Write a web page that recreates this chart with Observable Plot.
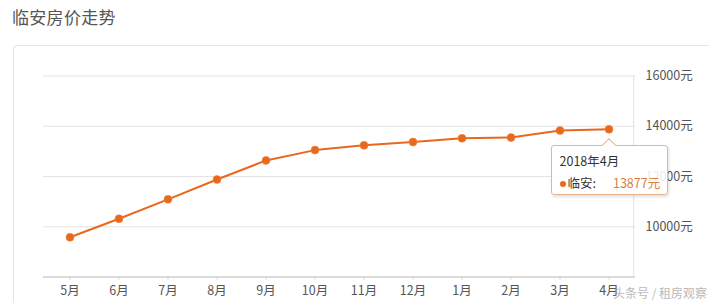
<!DOCTYPE html>
<html>
<head>
<meta charset="utf-8">
<script src="https://cdn.jsdelivr.net/npm/d3@7"></script>
<script src="https://cdn.jsdelivr.net/npm/@observablehq/plot@0.6"></script>
<style>
  html, body { margin: 0; padding: 0; background: #fff; }
  #wrap { position: relative; width: 709px; height: 303px; overflow: hidden; font-family: "Noto Sans CJK SC", "Noto Sans", sans-serif; }
  #title { position: absolute; left: 12px; top: 4px; font-size: 17px; color: #555; letter-spacing: 0.3px; }
  #card { position: absolute; left: 13px; top: 45px; width: 740px; height: 300px; border: 1px solid #e4e4e4; border-radius: 4px; box-sizing: border-box; }
  #chart { position: absolute; left: 0; top: 0; }
  #tip { position: absolute; background: rgba(255,255,255,0.88); border: 1px solid #ecb48c; border-radius: 3px; box-shadow: 1px 2px 3px rgba(0,0,0,0.12); box-sizing: border-box; font-size: 12.5px; color: #333; }
  #tip .l1 { position: absolute; left: 8px; top: 5px; white-space: nowrap; }
  #tip .l2 { position: absolute; left: 8px; top: 27px; white-space: nowrap; }
  #tip .dot { display: inline-block; width: 6px; height: 6px; border-radius: 50%; background: #e8691e; margin-right: 2px; vertical-align: 1px; }
  #tip .val { color: #d9823f; margin-left: 17px; }
  #arrow { position: absolute; width: 9px; height: 9px; background: #fff; border-left: 1px solid #ecb48c; border-top: 1px solid #ecb48c; transform: rotate(45deg); }
  #wm { position: absolute; left: 613px; top: 284px; font-size: 12px; color: rgba(170,170,170,0.85); white-space: nowrap; }
</style>
</head>
<body>
<div id="wrap">
  <div id="title">临安房价走势</div>
  <div id="card"></div>
  <div id="chart"></div>
  <div id="tip"><div class="l1"></div><div class="l2"></div></div>
  <div id="arrow"></div>
  <div id="wm">头条号 / 租房观察</div>
</div>
<script>
const months = ["5月","6月","7月","8月","9月","10月","11月","12月","1月","2月","3月","4月"];
const prices = [9580, 10320, 11090, 11880, 12640, 13050, 13240, 13370, 13520, 13550, 13830, 13877];
const yTicks = [10000, 12000, 14000, 16000];
const seriesName = "临安";
const tipLabel = "2018年4月";
const unit = "元";

const data = months.map((m, i) => ({month: m, price: prices[i]}));
const lineColor = "#e8691e";

const chart = Plot.plot({
  width: 709,
  height: 303,
  marginLeft: 43,
  marginRight: 74,
  marginTop: 75.5,
  marginBottom: 26.5,
  style: {fontFamily: "'Noto Sans CJK SC', sans-serif", fontSize: "12.5px", color: "#555", background: "transparent"},
  x: {type: "band", domain: months, padding: 0, label: null},
  y: {domain: [8000, 16000], label: null},
  marks: [
    Plot.ruleY(yTicks, {stroke: "#e3e3e3", strokeWidth: 1}),
    Plot.ruleX([months[months.length - 1]], {y1: 8000, y2: 16000, dx: 24.7, stroke: "#e3e3e3"}),
    Plot.ruleY([8000], {stroke: "#cfcfcf", strokeWidth: 1.5}),
    Plot.axisX({anchor: "bottom", tickSize: 3, tickPadding: 6, stroke: "#d0d0d0", fill: "#555", fontSize: 12.5}),
    Plot.axisY(yTicks, {anchor: "right", tickSize: 0, tickPadding: 10, tickFormat: d => d + unit, fill: "#555", fontSize: 12.5}),
    Plot.line(data, {x: "month", y: "price", stroke: lineColor, strokeWidth: 2}),
    Plot.dot(data, {x: "month", y: "price", r: 4, fill: lineColor, stroke: "#f2853f", strokeWidth: 0.5})
  ]
});
document.getElementById("chart").appendChild(chart);

// tooltip anchored to the last point using the plot's own scales
const xs = chart.scale("x"), ys = chart.scale("y");
const last = data[data.length - 1];
const px = xs.apply(last.month) + xs.bandwidth / 2;
const py = ys.apply(last.price);
const tip = document.getElementById("tip");
const tipW = 117, tipH = 50;
tip.style.width = tipW + "px";
tip.style.height = tipH + "px";
tip.style.left = (px - 58) + "px";
tip.style.top = (py + 16) + "px";
tip.querySelector(".l1").textContent = tipLabel;
tip.querySelector(".l2").innerHTML = '<span class="dot"></span>' + seriesName + ':<span class="val">' + last.price + unit + '</span>';
const arrow = document.getElementById("arrow");
arrow.style.left = (px - 5) + "px";
arrow.style.top = (py + 11.5) + "px";
</script>
</body>
</html>
